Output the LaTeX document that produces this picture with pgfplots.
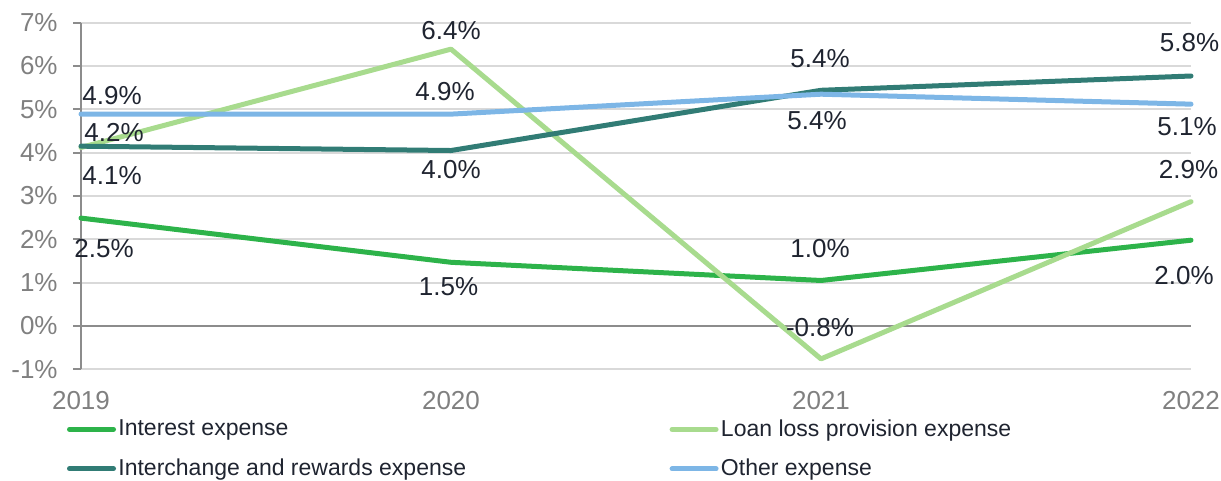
\documentclass[border=0pt]{standalone}
\usepackage{fontspec}
\setmainfont{Liberation Sans}
\usepackage{pgfplots}
\usepackage{pgfplotstable}
\pgfplotsset{compat=1.18}
\definecolor{cInt}{HTML}{2DB34A}
\definecolor{cLoan}{HTML}{A8DB8E}
\definecolor{cIch}{HTML}{317C75}
\definecolor{cOth}{HTML}{7DB6E6}
\definecolor{cText}{HTML}{1F2430}
\definecolor{cTick}{HTML}{808080}
\definecolor{cAxis}{HTML}{8C8C8C}
\definecolor{cGrid}{HTML}{D9D9D9}

% x y lab dx dy   (dx, dy: label offset in pt)
\pgfplotstableread{
x y lab dx dy
2019 2.49 2.5 11.5 -15
2020 1.47 1.5 -1.25 -12
2021 1.05 1.0 -0.5 16
2022 1.98 2.0 -3.5 -17.5
}\tInt
\pgfplotstableread{
x y lab dx dy
2019 4.12 4.2 16.5 7.5
2020 6.39 6.4 0 9.25
2021 -0.76 -0.8 -0.5 15.75
2022 2.87 2.9 -1.25 15.85
}\tLoan
\pgfplotstableread{
x y lab dx dy
2019 4.15 4.1 15.5 -14.5
2020 4.05 4.0 0 -9.5
2021 5.44 5.4 -0.5 16
2022 5.77 5.8 -0.75 16.75
}\tIch
\pgfplotstableread{
x y lab dx dy
2019 4.89 4.9 15.5 9.5
2020 4.89 4.9 -3 11.3
2021 5.35 5.4 -2 -13.3
2022 5.12 5.1 -2 -11.3
}\tOth

\begin{document}
\begin{tikzpicture}
\begin{axis}[
  scale only axis,
  width=555pt, height=173.3pt,
  xmin=2019, xmax=2022, ymin=-1, ymax=7,
  clip=false,
  xtick={2019,2020,2021,2022},
  xticklabels={2019,2020,2021,2022},
  ytick={-1,0,1,2,3,4,5,6,7},
  yticklabel={\pgfmathprintnumber{\tick}\%},
  /pgf/number format/assume math mode=true,
  tick label style={font=\fontsize{13}{15}\selectfont, text=cTick},
  xticklabel style={anchor=base, yshift=-16pt},
  yticklabel style={anchor=east, inner sep=0pt, xshift=-7.5pt},
  axis x line*=bottom, axis y line*=left,
  x axis line style={draw=none},
  y axis line style={cAxis, line width=1pt, -},
  xtick style={draw=none},
  ytick style={cAxis, line width=1pt},
  tick align=outside,
  major tick length=4pt,
  ymajorgrids,
  grid style={cGrid, line width=1pt},
  extra y ticks={0},
  extra y tick labels={},
  extra y tick style={grid style={cAxis, line width=1pt}},
  every axis plot/.append style={line width=2.5pt, line cap=round, line join=round, mark=none},
  nodes near coords={\pgfmathprintnumber[fixed,fixed zerofill,precision=1]{\pgfplotspointmeta}\%},
  point meta=explicit,
  visualization depends on={\thisrow{dx}\as\labdx},
  visualization depends on={\thisrow{dy}\as\labdy},
  every node near coord/.append style={anchor=center, xshift=\labdx pt, yshift=\labdy pt,
     font=\fontsize{13}{15}\selectfont, text=cText, inner sep=0pt},
  legend columns=2,
  legend cell align=left,
  legend image code/.code={\draw[#1, line width=2.5pt, line cap=round] (0pt,0pt) -- (22pt,0pt);},
  legend style={at={(rel axis cs:-0.0126,-0.138)}, anchor=north west, draw=none, fill=none,
     font=\fontsize{11.5}{13}\selectfont, text=cText, inner sep=0pt, outer sep=0pt,
     row sep=7.5pt,
     nodes={inner sep=1.2pt},
     /tikz/every even column/.append style={column sep=100.5pt}},
]
\addplot[cInt] table[x=x, y=y, meta=lab] {\tInt};
\addlegendentry{Interest expense}
\addplot[cLoan] table[x=x, y=y, meta=lab] {\tLoan};
\addlegendentry{Loan loss provision expense}
\addplot[cIch] table[x=x, y=y, meta=lab] {\tIch};
\addlegendentry{Interchange and rewards expense}
\addplot[cOth] table[x=x, y=y, meta=lab] {\tOth};
\addlegendentry{Other expense}
\coordinate (ll) at (rel axis cs:0,0);
\end{axis}
\pgfresetboundingbox
\path[use as bounding box] ([xshift=-40.5pt,yshift=-55.85pt]ll) rectangle ([xshift=570pt,yshift=184.65pt]ll);
\end{tikzpicture}
\end{document}
